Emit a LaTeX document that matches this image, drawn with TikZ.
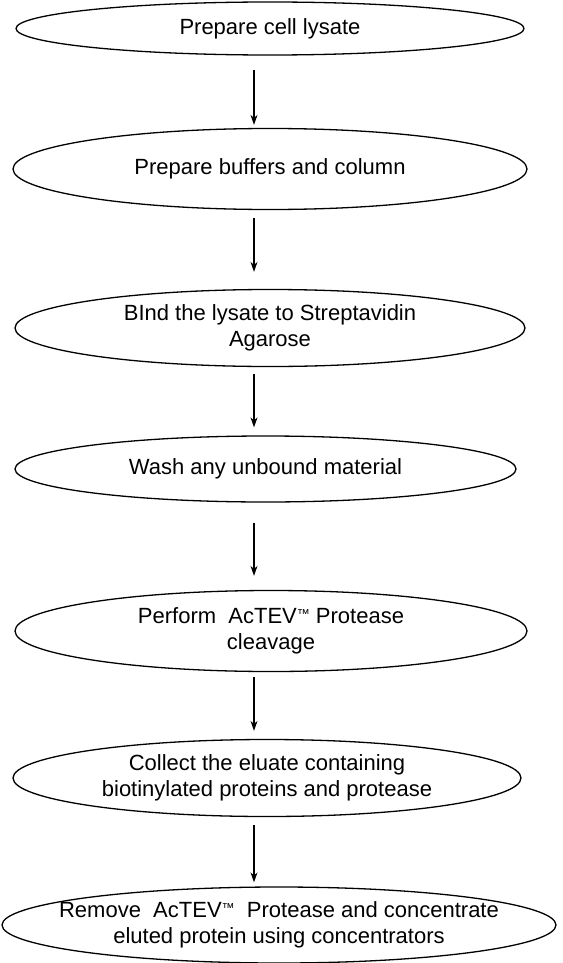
\documentclass[tikz,border=0pt]{standalone}
\usepackage{fontspec}
\setmainfont{Liberation Sans}
\usetikzlibrary{shapes.geometric}
\usetikzlibrary{arrows.meta}

\newcommand{\tmark}{\raisebox{5pt}{\fontsize{13}{13}\selectfont ™}}

\begin{document}
\begin{tikzpicture}[x=1pt, y=-1pt,
  stage/.style={draw=black, line width=1.3pt, ellipse, inner xsep=-80pt, inner ysep=-12pt,
    align=center, font=\fontsize{22}{26}\selectfont},
  flow/.style={-{Stealth[length=10pt,width=7pt]}, line width=1.1pt}]

\useasboundingbox (0,0) rectangle (562,963);

\coordinate (X) at (254,0);

\node[stage, minimum width=508pt, minimum height=53pt] (lysate) at (270,28.5) {Prepare cell lysate};
\node[stage, minimum width=514pt, minimum height=81pt] (buffers) at (270,169) {Prepare buffers and column};
\node[stage, minimum width=510pt, minimum height=77pt] (bind) at (270,328) {BInd the lysate to Streptavidin\\Agarose};
\node[stage, minimum width=501pt, minimum height=66pt] (wash) at (265.5,469) {Wash any unbound material};
\node[stage, minimum width=512pt, minimum height=81pt] (cleave) at (271,631) {Perform~ AcTEV\tmark\ Protease\\cleavage};
\node[stage, minimum width=508pt, minimum height=77pt] (collect) at (267,778) {Collect the eluate containing\\biotinylated proteins and protease};
\node[stage, minimum width=554pt, minimum height=76pt] (remove) at (279,925) {Remove~ AcTEV\tmark~ Protease and concentrate\\eluted protein using concentrators};

\draw[flow, shorten <=14pt, shorten >=3pt] (lysate.south -| X) -- (buffers.north -| X);
\draw[flow, shorten <=8pt, shorten >=17pt] (buffers.south -| X) -- (bind.north -| X);
\draw[flow, shorten <=7pt, shorten >=8pt] (bind.south -| X) -- (wash.north -| X);
\draw[flow, shorten <=20pt, shorten >=14pt] (wash.south -| X) -- (cleave.north -| X);
\draw[flow, shorten <=5pt, shorten >=8pt] (cleave.south -| X) -- (collect.north -| X);
\draw[flow, shorten <=8pt, shorten >=4pt] (collect.south -| X) -- (remove.north -| X);

\end{tikzpicture}
\end{document}
